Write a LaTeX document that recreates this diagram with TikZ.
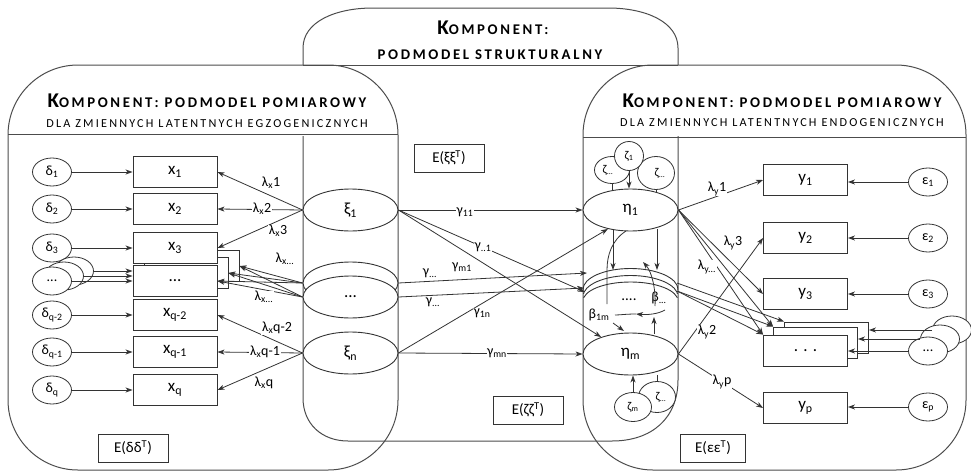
\documentclass[tikz,border=0pt]{standalone}
\usepackage{fontspec}
\setmainfont{Carlito}
\newfontfamily\ttlfont[LetterSpace=18]{Carlito}
\usetikzlibrary{arrows.meta,shapes.geometric}
\newcommand\sbs[1]{\textsubscript{#1}}
\newcommand\Kbig{\fontsize{21}{21}\selectfont}
\newcommand\Ksm{\fontsize{14.8}{14.8}\selectfont}
\tikzset{
 panel/.style={draw=black!70, line width=1pt},
 ln/.style={draw=black!80, line width=0.8pt},
 arr/.style={ln, -{Stealth[length=7pt,width=5pt,inset=2pt]}},
 obs/.style={rectangle, draw=black!80, line width=0.9pt, fill=white, minimum width=84pt, minimum height=31pt, inner sep=0pt, font=\fontsize{17}{17}\selectfont},
 err/.style={ellipse, draw=black!80, line width=0.8pt, fill=white, minimum width=39pt, minimum height=28pt, inner sep=0pt, font=\fontsize{14}{14}\selectfont},
 lat/.style={ellipse, draw=black!80, line width=0.9pt, fill=white, minimum width=95pt, minimum height=42pt, inner sep=0pt, font=\fontsize{17}{17}\selectfont},
 zet/.style={ellipse, draw=black!80, line width=0.8pt, fill=white, inner sep=0pt, font=\fontsize{12}{12}\selectfont},
 lbl/.style={fill=white, inner sep=0.6pt, font=\fontsize{14}{14}\selectfont},
 ebox/.style={rectangle, draw=black!80, line width=0.9pt, minimum width=70pt, minimum height=28pt, inner sep=0pt, font=\fontsize{15}{15}\selectfont},
 ttl/.style={inner sep=0pt, font=\ttlfont\bfseries},
 sub/.style={inner sep=0pt, font=\ttlfont\fontsize{12.2}{12.2}\selectfont},
 txt/.style={inner sep=0pt, font=\fontsize{14}{14}\selectfont},
}
\begin{document}
\begin{tikzpicture}[x=1pt,y=-1pt]
\useasboundingbox (0,0) rectangle (971,471);
% ---------- panels
\draw[panel] (303,300) -- (303,48) .. controls (303,22) and (335,8) .. (373,8) -- (608,8) .. controls (646,8) and (678,22) .. (678,48) -- (678,380) .. controls (678,418) and (652,441) .. (612,441) -- (348,441) .. controls (322,441) and (303,424) .. (303,398) -- cycle;
\begin{scope}
\clip (0,0) rectangle (971,135.5);
\fill[white,rounded corners=70] (8,65) rectangle (398,470);
\fill[white,rounded corners=70] (583,65) rectangle (966,470);
\end{scope}
\draw[panel,rounded corners=70] (8,65) rectangle (398,470);
\draw[panel,rounded corners=70] (583,65) rectangle (966,470);
\draw[panel] (303,65) -- (678,65);
\draw[panel] (8,134) -- (398,134);
\draw[panel] (583,137) -- (966,137);
% ---------- titles
\node[ttl] (tc1) at (493,28) {{\Kbig K}{\Ksm OMPONENT:}};
\node[ttl] (tc2) at (490,55) {\Ksm PODMODEL STRUKTURALNY};
\node[ttl] (tl1) at (207,101) {{\Kbig K}{\Ksm OMPONENT: PODMODEL POMIAROWY}};
\node[sub] (tl2) at (207,124) {DLA ZMIENNYCH LATENTNYCH EGZOGENICZNYCH};
\node[ttl] (tr1) at (782,101) {{\Kbig K}{\Ksm OMPONENT: PODMODEL POMIAROWY}};
\node[sub] (tr2) at (782,123) {DLA ZMIENNYCH LATENTNYCH ENDOGENICZNYCH};
% ---------- left errors
\node[err] (d1) at (52,172) {δ\sbs{1}};
\node[err] (d2) at (52,209) {δ\sbs{2}};
\node[err] (d3) at (52,248) {δ\sbs{3}};
\node[err] (dd3) at (74,271) {};
\node[err] (dd2) at (64,276) {};
\node[err] (dd1) at (52,281) {...};
\node[err] (d5) at (52,315) {δ\sbs{q-2}};
\node[err] (d6) at (52,352) {δ\sbs{q-1}};
\node[err] (d7) at (52,390) {δ\sbs{q}};
% ---------- left indicators
\node[obs] (xd3) at (197,266) {};
\node[obs] (xd2) at (186,273) {};
\node[obs] (xd) at (175,281) {...};
\node[obs] (x1) at (175,172) {x\sbs{1}};
\node[obs] (x2) at (175,209) {x\sbs{2}};
\node[obs] (x3) at (175,248) {x\sbs{3}};
\node[obs] (x5) at (175,315) {x\sbs{q-2}};
\node[obs] (x6) at (175,352) {x\sbs{q-1}};
\node[obs] (x7) at (175,390) {x\sbs{q}};
\foreach \a/\b in {d1/x1,d2/x2,d3/x3,dd1/xd,dd2/xd,dd3/xd,d5/x5,d6/x6,d7/x7}
  \draw[arr] (\a.east) -- (\a.east -| \b.west);
% ---------- exogenous latents
\node[lat] (xi1) at (350.5,210) {ξ\sbs{1}};
\node[lat] (xib) at (350.5,283) {};
\node[lat] (xif) at (350.5,297) {...};
\node[lat] (xin) at (350.5,353) {ξ\sbs{n}};
\draw[arr] (xi1.west) -- (x1.east);
\draw[arr] (xi1.west) -- (x2.east);
\draw[arr] (xi1.west) -- (x3.east);
\foreach \s in {xib,xif}
  \foreach \t in {xd3,xd2,xd}
    \draw[arr] (\s.west) -- (\t.east);
\draw[arr] (xin.west) -- (x5.east);
\draw[arr] (xin.west) -- (x6.east);
\draw[arr] (xin.west) -- (x7.east);
\node[lbl] (lx1) at (271,183) {λ\sbs{x}1};
\node[lbl] (lx2) at (262,209) {λ\sbs{x}2};
\node[lbl] (lx3) at (278,231) {λ\sbs{x}3};
\node[lbl] (lxa) at (285,259) {λ\sbs{x...}};
\node[lbl] (lxb) at (264,297) {λ\sbs{x...}};
\node[lbl] (lx5) at (277,328) {λ\sbs{x}q-2};
\node[lbl] (lx6) at (265,352) {λ\sbs{x}q-1};
\node[lbl] (lx7) at (264,383) {λ\sbs{x}q};
% ---------- covariance boxes
\node[ebox] (edd) at (133,448) {E(δδ\textsuperscript{T})};
\node[ebox] (exx) at (449,158) {E(ξξ\textsuperscript{T})};
\node[ebox] (ezz) at (528,410) {E(ζζ\textsuperscript{T})};
\node[ebox, minimum width=65pt] (eee) at (713,448) {E(εε\textsuperscript{T})};
% ---------- endogenous latents: middle stack (upper arcs)
\begin{scope}
\clip (583,250) rectangle (678,289);
\node[lat, fill=none] (em3) at (630.5,289.5) {};
\end{scope}
\begin{scope}
\clip (583,250) rectangle (678,293);
\node[lat, fill=none] (em2) at (630.5,296.5) {};
\end{scope}
\begin{scope}
\clip (583,250) rectangle (678,297);
\node[lat, fill=none, minimum height=38pt] (em1) at (630.5,301) {};
\end{scope}
\coordinate (mla) at (587,273);
\coordinate (mlb) at (584,288);
\coordinate (mlc) at (585,292);
\coordinate (mra) at (677,283);
\coordinate (mrb) at (677,291);
\node[txt, font=\fontsize{15}{15}\selectfont] (mdots) at (629,300) {....};
\node[txt] (bdots) at (659,298) {β\sbs{...}};
\node[lat] (eta1) at (630.5,210) {η\sbs{1}};
\node[lat] (etam) at (630.5,354) {η\sbs{m}};
\node[zet, minimum width=35pt, minimum height=27pt] (zl) at (612,170) {\hspace*{-8pt}ζ\sbs{...}};
\node[zet, minimum width=37pt, minimum height=33pt] (zr) at (656,173) {\hspace*{8pt}ζ\sbs{...}};
\node[zet, minimum width=29pt, minimum height=29pt] (z1) at (629,156) {ζ\sbs{1}};
\draw[arr] (z1.south) -- (z1.south |- eta1.north);
\draw[ln] (zl.south) -- ++(0,6);
\draw[ln] (zr.south) -- ++(0,2);
\node[zet, minimum width=37pt, minimum height=31pt] (zmb) at (657,397) {\hspace*{8pt}ζ\sbs{...}};
\node[zet, minimum width=37pt, minimum height=29pt] (zm) at (633,407) {ζ\sbs{m}};
\draw[arr] (zm.north) -- (zm.north |- etam.south);
\draw[ln] (zmb.north) -- (zmb.north |- etam.south);
% beta paths
\coordinate (b1s) at (613,230);
\coordinate (b1e) at (613,270);
\coordinate (b2s) at (657,229);
\coordinate (b2e) at (657,270);
\draw[arr] (b1s) -- (b1e);
\draw[arr] (b2s) -- (b2e);
\coordinate (bcs) at (626,231);
\coordinate (bce) at (607,304);
\draw[ln] (bcs) .. controls (612,240) and (607,255) .. (607,270) -- (bce);
\coordinate (bbs) at (655,306);
\coordinate (bbt) at (643,262);
\draw[arr] (bbs) .. controls (656,290) and (652,272) .. (bbt);
\node[txt] (b1m) at (599,315) {β\sbs{1m}};
\coordinate (bls) at (665,310);
\coordinate (blm) at (636,314);
\coordinate (ble) at (615,315);
\draw[arr] (bls) .. controls (658,314) and (648,315) .. (blm);
\draw[ln] (blm) .. controls (626,314) and (620,315) .. (ble);
\coordinate (bms) at (613,323);
\coordinate (bme) at (624,331);
\draw[arr] (bms) -- (bme);
\coordinate (bus) at (654,334);
\coordinate (bue) at (654,317);
\draw[arr] (bus) -- (bue);
% ---------- structural paths
\draw[arr] (xi1.east) -- (eta1.west);
\draw[arr] (xi1.east) -- (mlc);
\draw[arr] (xi1.east) -- (etam.150);
\draw[arr] (xib.east) -- (mla);
\draw[arr] (xif.east) -- (mlb);
\draw[arr] (xin.east) -- (eta1.220);
\draw[arr] (xin.east) -- (etam.west);
\node[lbl] (g11) at (465,212) {γ\sbs{11}};
\node[lbl] (gx1) at (483,247) {γ\sbs{..1}};
\node[lbl] (gm1) at (462,267) {γ\sbs{m1}};
\node[lbl] (gxa) at (430,273) {γ\sbs{...}};
\node[lbl] (gxb) at (433,302) {γ\sbs{...}};
\node[lbl] (g1n) at (482,313) {γ\sbs{1n}};
\node[lbl] (gmn) at (497,353) {γ\sbs{mn}};
% ---------- right indicators
\node[obs] (yd3) at (826.5,337.5) {};
\node[obs] (yd2) at (815.5,342.5) {};
\node[obs] (yd) at (805.5,350.5) {. . .};
\node[obs] (y1) at (805.5,180) {y\sbs{1}};
\node[obs] (y2) at (805.5,238) {y\sbs{2}};
\node[obs] (y3) at (805.5,294) {y\sbs{3}};
\node[obs] (yp) at (805.5,408) {y\sbs{p}};
\node[err] (e1) at (928,182) {ε\sbs{1}};
\node[err] (e2) at (928,238) {ε\sbs{2}};
\node[err] (e3) at (928,294) {ε\sbs{3}};
\node[err] (eed3) at (952,330) {};
\node[err] (eed2) at (940,339) {};
\node[err] (eed1) at (928,351) {...};
\node[err] (ep) at (928,407) {ε\sbs{p}};
\foreach \a/\b in {e1/y1,e2/y2,e3/y3,eed1/yd,eed2/yd2,eed3/yd3,ep/yp}
  \draw[arr] (\a.west) -- (\a.west -| \b.east);
\draw[arr] (eta1.east) -- (y1.west);
\draw[arr] (eta1.east) -- (y3.west);
\draw[arr] (eta1.east) -- (yd.north west);
\draw[arr] (eta1.east) -- (yd2.north west);
\draw[arr] (mra) -- (yd3.north west);
\draw[arr] (mrb) -- (yd2.north west);
\draw[arr] (mrb) -- (yd.north west);
\draw[arr] (etam.east) -- (y2.west);
\draw[arr] (etam.east) -- (yp.west);
\node[lbl] (ly1) at (717,189) {λ\sbs{y}1};
\node[lbl] (ly3) at (733,243) {λ\sbs{y}3};
\node[lbl] (lya) at (707,267) {λ\sbs{y...}};
\node[lbl] (ly2) at (707,332) {λ\sbs{y}2};
\node[lbl] (lyp) at (722,382) {λ\sbs{y}p};
\end{tikzpicture}
\end{document}
